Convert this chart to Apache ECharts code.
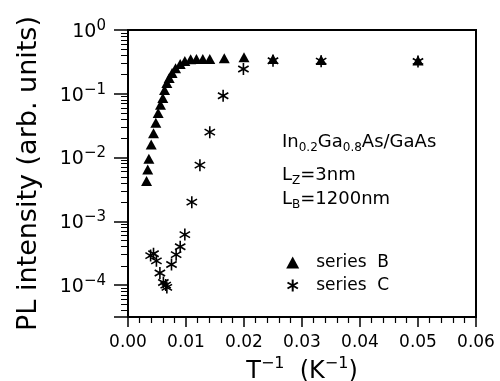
<!doctype html>
<html><head><meta charset="utf-8"></head>
<body style="margin:0">
<div id="chart" style="width:500px;height:381px"></div>
<script src="https://cdn.jsdelivr.net/npm/echarts@6/dist/echarts.min.js"></script>
<script>
// inverse temperature (1/K) and PL intensity (arb. units)
var xB = [0.0032,0.0034,0.0036,0.0040,0.0044,0.0048,0.0052,0.0056,0.0060,0.0063,0.0067,0.0071,0.0076,0.0082,0.0090,0.0098,0.0108,0.0118,0.0129,0.0141,0.0166,0.0200,0.0250,0.0333,0.0500];
var yB = [0.0043,0.0065,0.0096,0.016,0.024,0.035,0.050,0.067,0.086,0.115,0.147,0.176,0.211,0.252,0.294,0.328,0.348,0.352,0.352,0.352,0.361,0.374,0.352,0.340,0.331];
var xC = [0.0039,0.0044,0.0049,0.0055,0.0061,0.0065,0.0067,0.0075,0.0083,0.0090,0.0098,0.0110,0.0124,0.0141,0.0164,0.0199,0.0250,0.0333,0.0500];
var yC = [0.00029,0.00031,0.00024,0.000155,0.00011,0.0001,0.000092,0.00021,0.00030,0.00040,0.00062,0.0020,0.0076,0.025,0.093,0.245,0.33,0.325,0.32];
var seriesNames = ['series B', 'series C'];

var font = 'DejaVu Sans';
var star = 'path://M50,0L50,100M6.7,25L93.3,75M6.7,75L93.3,25';

function pairs(xs, ys) {
    return xs.map(function (x, i) { return [x, ys[i]]; });
}

var noteRich = {
    a: {fontFamily: font, fontSize: 18, fill: '#000', verticalAlign: 'top', lineHeight: 21},
    s: {fontFamily: font, fontSize: 12, fill: '#000', verticalAlign: 'bottom', lineHeight: 12}
};

var chart = echarts.init(document.getElementById('chart'));
chart.setOption({
    animation: false,
    backgroundColor: '#fff',
    textStyle: {fontFamily: font, color: '#000'},
    grid: {left: 128, right: 24, top: 30, bottom: 64, outerBoundsMode: 'none', containLabel: false,
        show: true, borderColor: '#000', borderWidth: 2},
    legend: {
        orient: 'vertical', left: 280, top: 249, itemGap: 6,
        itemWidth: 13, itemHeight: 12,
        formatter: function (n) { return n.replace(' ', '  '); },
        textStyle: {fontFamily: font, fontSize: 17, color: '#000', padding: [0, 0, 0, 12]},
        data: seriesNames
    },
    xAxis: {
        type: 'value', min: 0, max: 0.06, interval: 0.01,
        name: '{b|T}{s|−1}{b|  (K}{s|−1}{b|)}',
        nameLocation: 'middle', nameGap: 38,
        nameTextStyle: {
            rich: {
                b: {fontFamily: font, fontSize: 24, color: '#000', verticalAlign: 'bottom', lineHeight: 28},
                s: {fontFamily: font, fontSize: 16, color: '#000', verticalAlign: 'top', lineHeight: 16}
            }
        },
        axisLine: {lineStyle: {color: '#000', width: 2}},
        axisTick: {length: 10, lineStyle: {color: '#000', width: 1.5}},
        minorTick: {show: true, splitNumber: 5, length: 6, lineStyle: {color: '#000', width: 1.2}},
        splitLine: {show: false},
        axisLabel: {fontFamily: font, fontSize: 17, color: '#000', margin: 17,
            formatter: function (v) { return v.toFixed(2); }}
    },
    yAxis: {
        type: 'log', min: Math.pow(10, -4.5), max: 1, logBase: 10,
        name: 'PL intensity (arb. units)',
        nameLocation: 'middle', nameGap: 86,
        nameTextStyle: {fontFamily: font, fontSize: 27, color: '#000'},
        axisLine: {lineStyle: {color: '#000', width: 2}},
        axisTick: {length: 14, lineStyle: {color: '#000', width: 1.5}},
        minorTick: {show: true, splitNumber: 9, length: 7, lineStyle: {color: '#000', width: 1}},
        splitLine: {show: false},
        axisLabel: {
            margin: 22,
            formatter: function (v) {
                var e = Math.log10(v);
                var r = Math.round(e);
                if (Math.abs(e - r) > 1e-6) return '';
                return '{b|10}{s|' + (r === 0 ? '0' : '−' + (-r)) + '}';
            },
            rich: {
                b: {fontFamily: font, fontSize: 19, color: '#000', verticalAlign: 'bottom', lineHeight: 23},
                s: {fontFamily: font, fontSize: 15, color: '#000', verticalAlign: 'top', lineHeight: 15}
            }
        }
    },
    graphic: [
        {type: 'text', left: 282, top: 133, style: {text: '{a|In}{s|0.2}{a|Ga}{s|0.8}{a|As/GaAs}', rich: noteRich}},
        {type: 'text', left: 282, top: 166, style: {text: '{a|L}{s|Z}{a|=3nm}', rich: noteRich}},
        {type: 'text', left: 282, top: 190, style: {text: '{a|L}{s|B}{a|=1200nm}', rich: noteRich}}
    ],
    series: [
        {
            name: seriesNames[0], type: 'scatter', symbol: 'triangle', symbolSize: [11, 10],
            itemStyle: {color: '#000', opacity: 1},
            data: pairs(xB, yB)
        },
        {
            name: seriesNames[1], type: 'scatter', symbol: star, symbolSize: 12, symbolKeepAspect: true,
            itemStyle: {color: 'none', borderColor: '#000', borderWidth: 1.6, opacity: 1},
            data: pairs(xC, yC)
        }
    ]
});
</script>
</body></html>
